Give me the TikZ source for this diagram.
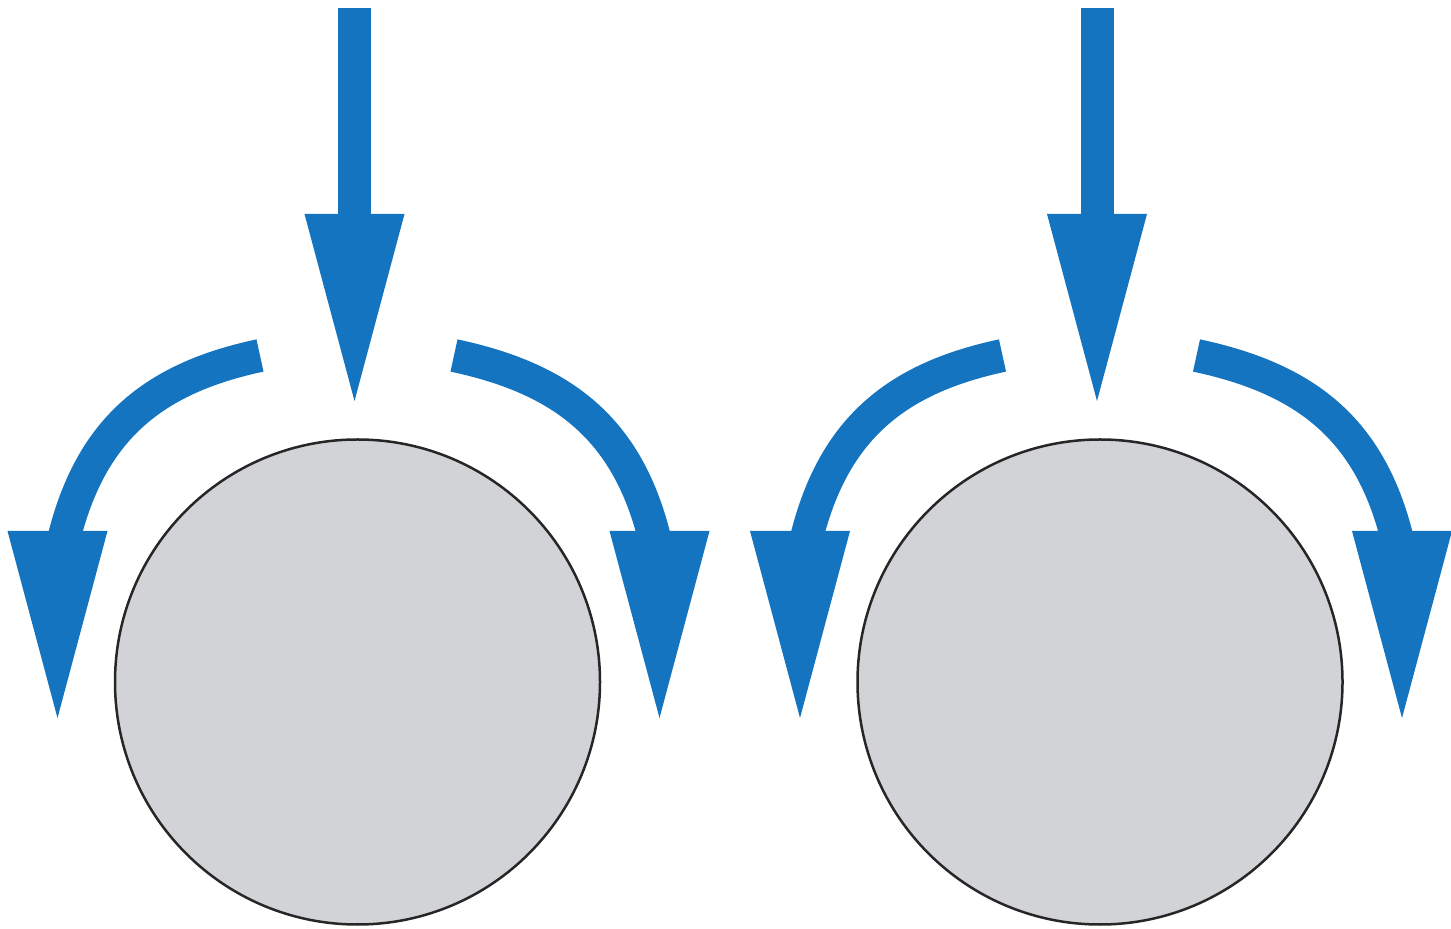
\documentclass[tikz,border=0pt]{standalone}
\usetikzlibrary{arrows.meta}
\definecolor{flowblue}{RGB}{20,116,192}
\definecolor{ballgray}{RGB}{209,211,214}

\begin{document}
\begin{tikzpicture}[x=0.5pt,y=0.5pt,
  shaft/.style={draw=flowblue,line width=16.5pt},
  flow/.style={shaft,-{Triangle[length=93.5pt,width=50pt,line width=0pt]}},
  head/.style={flow,line width=1pt},
  ball/.style={circle,draw=black!85,line width=1.25pt,fill=ballgray,
    minimum size=242.5pt,inner sep=0pt}]
  \useasboundingbox (0,0) rectangle (1451,-929);
  \foreach \n/\x in
  {
    l/357.5,
    r/1100%
  }
  {
    \node[ball] (ball\n) at (\x,-682) {};
    \coordinate (top\n) at (\x-3,-8);
    \coordinate (hit\n) at (\x-3,-401);
    \coordinate (ls\n) at (\x-97.5,-355.5);
    \coordinate (le\n) at (\x-293.5,-538);
    \coordinate (lb\n) at (\x-300,-520);
    \coordinate (lt\n) at (\x-300,-718);
    \coordinate (rs\n) at (\x+96.5,-355.5);
    \coordinate (re\n) at (\x+297,-538);
    \coordinate (rb\n) at (\x+302,-520);
    \coordinate (rt\n) at (\x+302,-718);
    \draw[flow] (top\n) -- (hit\n);
    \draw[head] (lb\n) -- (lt\n);
    \draw[head] (rb\n) -- (rt\n);
    \draw[shaft] (ls\n) to[out=192,in=76,looseness=1.06] (le\n);
    \draw[shaft] (rs\n) to[out=-12,in=104,looseness=1.06] (re\n);
  }
\end{tikzpicture}
\end{document}
